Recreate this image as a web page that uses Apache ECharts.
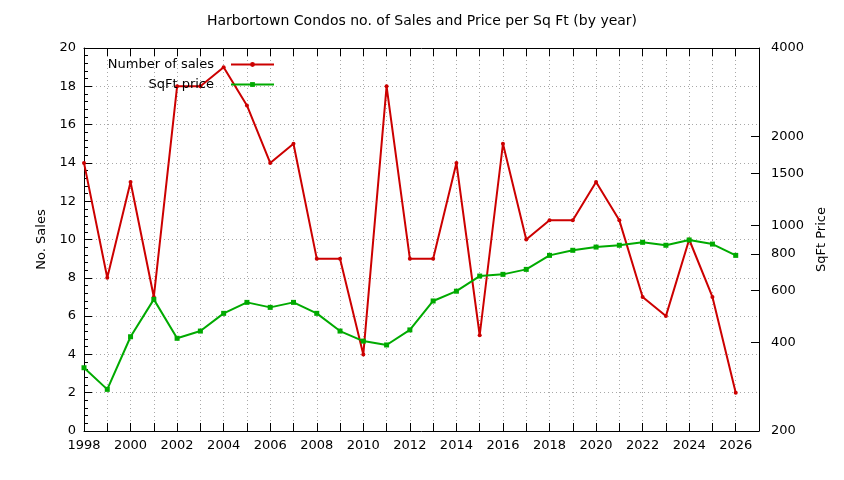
<!DOCTYPE html>
<html>
<head>
<meta charset="utf-8">
<script src="https://cdn.jsdelivr.net/npm/echarts@6.0.0/dist/echarts.min.js"></script>
<style>
  html, body { margin: 0; padding: 0; background: #fff; }
  #chart { width: 844px; height: 480px; }
</style>
</head>
<body>
<div id="chart"></div>
<script>
// 年份和两组数据
var years = [1998, 1999, 2000, 2001, 2002, 2003, 2004, 2005, 2006, 2007, 2008, 2009, 2010, 2011, 2012,
             2013, 2014, 2015, 2016, 2017, 2018, 2019, 2020, 2021, 2022, 2023, 2024, 2025, 2026];
var salesCount = [14, 8, 13, 7, 18, 18, 19, 17, 14, 15, 9, 9, 4, 18, 9,
                  9, 14, 5, 15, 10, 11, 11, 13, 11, 7, 6, 10, 7, 2];
var sqftPrice = [328, 277, 418, 560, 413, 437, 502, 547, 526, 547, 502, 437, 404, 392, 441,
                 553, 597, 672, 681, 708, 790, 822, 843, 855, 875, 855, 891, 863, 790];
// 右侧对数轴的刻度
var priceTicks = [200, 400, 600, 800, 1000, 1500, 2000, 4000];

var font = 'DejaVu Sans';
var myChart = echarts.init(document.getElementById('chart'));

var salesData = [];
var priceData = [];
years.forEach(function (y, i) {
    salesData.push([y, salesCount[i]]);
    priceData.push([y, sqftPrice[i]]);
});

var gridLine = { show: true, lineStyle: { color: '#a8a8a8', type: [1, 3], width: 1 } };

var option = {
    animation: false,
    backgroundColor: '#fff',
    title: {
        text: 'Harbortown Condos no. of Sales and Price per Sq Ft (by year)',
        left: 'center',
        top: 9,
        textStyle: { fontFamily: font, fontSize: 14, fontWeight: 'normal', color: '#000' }
    },
    //两个图例分开放，文字右对齐
    legend: [
        {
            data: ['Number of sales'], right: 569, top: 58, padding: 0, align: 'right',
            itemWidth: 43, itemHeight: 6,
            textStyle: { fontFamily: font, fontSize: 13, color: '#000', padding: [0, 12, 0, 0] }
        },
        {
            data: ['SqFt price'], right: 569, top: 78, padding: 0, align: 'right',
            itemWidth: 43, itemHeight: 6,
            textStyle: { fontFamily: font, fontSize: 13, color: '#000', padding: [0, 12, 0, 0] }
        }
    ],
    grid: { left: 84, right: 85, top: 48, bottom: 49, containLabel: false },
    xAxis: [
        {
            type: 'value', min: 1998, max: 2027, interval: 1,
            axisLine: { lineStyle: { color: '#000', width: 1 } },
            axisTick: { inside: true, length: 8, lineStyle: { color: '#000' } },
            axisLabel: {
                fontFamily: font, fontSize: 13, color: '#000', margin: 8,
                formatter: function (v) { return v % 2 === 0 ? String(v) : ''; }
            },
            splitLine: gridLine
        },
        {
            // 上边框的刻度
            type: 'value', position: 'top', min: 1998, max: 2027, interval: 1,
            axisLine: { show: true, lineStyle: { color: '#000', width: 1 } },
            axisTick: { show: true, inside: true, length: 8, lineStyle: { color: '#000' } },
            axisLabel: { show: false },
            splitLine: { show: false }
        }
    ],
    yAxis: [
        {
            type: 'value', min: 0, max: 20, interval: 2,
            name: 'No. Sales', nameLocation: 'middle', nameGap: 35, nameRotate: 90,
            nameTextStyle: { fontFamily: font, fontSize: 13, color: '#000' },
            axisLine: { show: true, lineStyle: { color: '#000', width: 1 } },
            axisTick: { show: true, inside: true, length: 8, lineStyle: { color: '#000' } },
            minorTick: { show: true, splitNumber: 5, length: 4, lineStyle: { color: '#000' } },
            axisLabel: { fontFamily: font, fontSize: 13, color: '#000', margin: 8 },
            splitLine: gridLine
        },
        {
            type: 'log', logBase: 10, min: 200, max: 4000, position: 'right',
            name: 'SqFt Price', nameLocation: 'middle', nameGap: 54, nameRotate: 90,
            nameTextStyle: { fontFamily: font, fontSize: 13, color: '#000' },
            axisLine: { show: true, lineStyle: { color: '#000', width: 1 } },
            axisTick: { show: true, inside: true, length: 8, customValues: priceTicks, lineStyle: { color: '#000' } },
            axisLabel: {
                fontFamily: font, fontSize: 13, color: '#000', margin: 12, customValues: priceTicks,
                formatter: function (v) { return String(Math.round(v)); }
            },
            splitLine: { show: false }
        }
    ],
    series: [
        {
            name: 'Number of sales',
            type: 'line',
            data: salesData,
            xAxisIndex: 0, yAxisIndex: 0,
            symbol: 'circle', symbolSize: 4,
            itemStyle: { color: '#cc0000' },
            lineStyle: { color: '#cc0000', width: 2 }
        },
        {
            name: 'SqFt price',
            type: 'line',
            data: priceData,
            xAxisIndex: 0, yAxisIndex: 1,
            symbol: 'rect', symbolSize: 5,
            itemStyle: { color: '#00aa00' },
            lineStyle: { color: '#00aa00', width: 2 }
        }
    ]
};

myChart.setOption(option);
</script>
</body>
</html>
